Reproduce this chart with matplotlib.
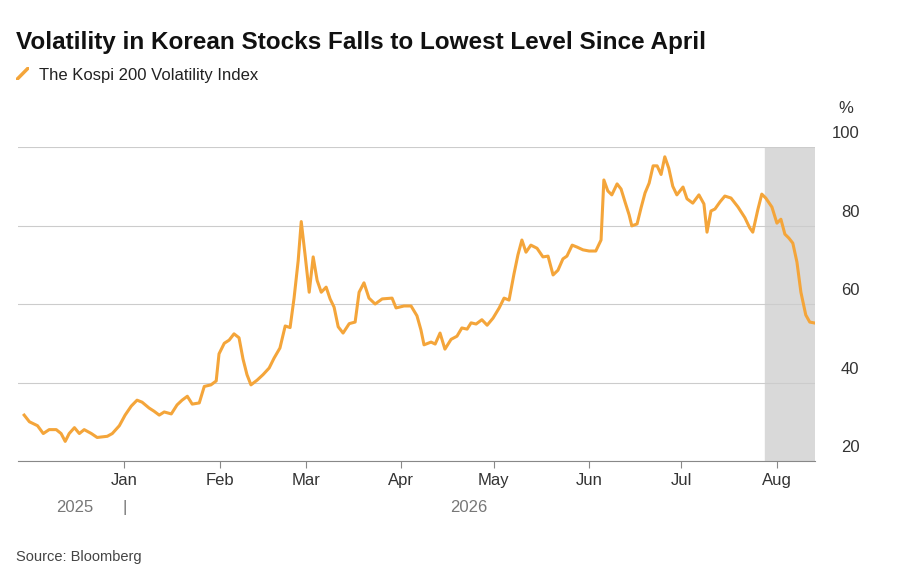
import numpy as np
import matplotlib.pyplot as plt
import matplotlib.dates as mdates

plt.rcParams['font.family'] = ['Liberation Sans', 'DejaVu Sans']

start = np.datetime64('2026-01-01')

# days from Jan 1 2026, index value
days = [-32.5, -30.8, -28.2, -26.3, -24.4, -22.1, -20.5, -19.2, -17.9, -16.2, -14.6, -13, -10.7, -8.8, -5.5, -3.9, -1.6,
        0.3, 2.3, 4.2, 5.8, 8.1, 9.7, 11.4, 13, 15.3, 17.2, 18.8, 20.5, 22.1, 24.4, 26, 28.2, 29.9, 30.8, 32.5, 34.1,
        35.7, 37.3, 38.6, 39.9, 41.2, 43.2, 45.1, 47.1, 48.7, 50.6, 52.3, 53.9, 55.2, 56.5, 57.5, 58.8, 60.1, 61.4,
        62.7, 64, 65.6, 66.9, 68.2, 69.5, 71.1, 73.1, 75, 76.3, 77.9, 79.5, 81.5, 83.8, 87, 88.3, 90.9, 93.2, 95.1,
        96.4, 97.4, 99.7, 101, 102.6, 104.2, 106.2, 108.1, 109.7, 111.4, 112.7, 114.3, 116.2, 117.9, 119.8, 121.8,
        123.4, 125, 126.6, 127.9, 129.2, 130.5, 132.1, 134.1, 136, 137.7, 139.3, 140.9, 142.5, 143.8, 145.5, 147.1,
        149, 151, 153.2, 154.9, 155.8, 157.1, 158.4, 160.1, 161.4, 162.7, 164, 164.9, 166.6, 167.9, 169.2, 170.5,
        171.8, 173.1, 174.4, 175.6, 176.9, 178.2, 179.5, 181.5, 182.8, 184.7, 186.7, 188.3, 189.3, 190.6, 191.9,
        193.5, 195.1, 197.1, 199.4, 201.6, 203.2, 204.2, 205.8, 207.1, 208.4, 210.4, 212, 213.3, 214.6, 215.9,
        217.2, 218.5, 219.8, 221.4, 222.7, 224]
vals = [31.7, 30, 29, 27, 28, 28, 27, 25, 27, 28.5, 27, 28, 27, 26, 26.3, 27, 29,
        31.7, 34, 35.5, 35, 33.5, 32.7, 31.7, 32.5, 32, 34.3, 35.5, 36.5, 34.5, 34.8, 39, 39.4, 40.4, 47.3, 50, 50.8,
        52.4, 51.4, 46, 42, 39.4, 40.6, 42, 43.7, 46.2, 48.8, 54.4, 54, 61.5, 71, 81, 72.2, 63, 72,
        66, 63, 64.3, 61.3, 59.2, 54.2, 52.6, 55, 55.4, 63, 65.4, 61.5, 60, 61.3, 61.5, 59, 59.5, 59.5, 57,
        53.4, 49.6, 50.3, 49.8, 52.6, 48.5, 51, 51.8, 53.9, 53.6, 55.2, 54.9, 56, 54.6, 56.4, 59,
        61.5, 61, 67.6, 72.5, 76.3, 73.2, 75, 74.2, 72, 72.2, 67.4, 68.6, 71.5, 72.2, 75, 74.5,
        73.8, 73.5, 73.5, 76.3, 91.6, 88.8, 87.8, 90.6, 89.3, 86, 82.7, 79.9, 80.4, 84.5, 88.3, 90.8,
        95.2, 95.2, 93, 97.5, 94.6, 90, 87.8, 89.8, 86.8, 85.7, 87.8, 85.5, 78.3, 83.7, 84.2,
        86, 87.5, 87, 84.7, 82, 79.4, 78.3, 84, 88, 87, 84.7, 80.6, 81.6, 77.8, 76.8,
        75.5, 70.7, 63, 57.2, 55.4, 55.2]

dates = start + (np.array(days) * 24).astype('timedelta64[h]')

fig = plt.figure(figsize=(9, 5.81), dpi=100)
ax = fig.add_axes([0.02, 0.2065, 0.886, 0.5405])

ax.axvspan(start + np.timedelta64(208, 'D'), dates[-1] + np.timedelta64(12, 'h'), color='#d9d9d9', zorder=0)
ax.plot(dates, vals, color='#f4a53a', linewidth=2.2, zorder=3)

ax.set_ylim(20, 100)
ax.set_xlim(dates[0] - np.timedelta64(2, 'D'), dates[-1] + np.timedelta64(12, 'h'))
ax.set_yticks([20, 40, 60, 80, 100])
ax.set_yticklabels([])
ax.tick_params(axis='y', length=0)
for v in [20, 40, 60, 80, 100]:
    ax.text(1.055, v + 1.5, str(v), transform=ax.get_yaxis_transform(), fontsize=12,
            color='#333333', ha='right', va='bottom')  # label sits above its gridline
ax.grid(axis='y', color='#cccccc', linewidth=0.8)
ax.set_axisbelow(True)
for s in ['top', 'right', 'left']:
    ax.spines[s].set_visible(False)
ax.spines['bottom'].set_color('#888888')

ax.xaxis.set_major_locator(mdates.MonthLocator(bymonth=range(1, 9)))
ax.xaxis.set_major_formatter(mdates.DateFormatter('%b'))
ax.tick_params(axis='x', length=5, color='#888888', labelsize=12, labelcolor='#333333')

fig.text(0.94, 0.805, '%', fontsize=12, color='#333333', ha='center')
fig.text(0.083, 0.118, '2025', fontsize=12, color='#777777', ha='center')
fig.text(0.139, 0.118, '|', fontsize=12, color='#777777', ha='center')
fig.text(0.521, 0.118, '2026', fontsize=12, color='#777777', ha='center')

fig.text(0.018, 0.915, 'Volatility in Korean Stocks Falls to Lowest Level Since April',
         fontsize=17.5, fontweight='bold', color='#111111')
fig.plot = fig.add_axes([0.018, 0.862, 0.014, 0.022])
fig.plot.plot([0, 1], [0, 1], color='#f4a53a', linewidth=2.5)
fig.plot.axis('off')
fig.text(0.043, 0.862, 'The Kospi 200 Volatility Index', fontsize=12, color='#222222')
fig.text(0.018, 0.035, 'Source: Bloomberg', fontsize=10.5, color='#444444')

fig.savefig('out.png', dpi=100)
